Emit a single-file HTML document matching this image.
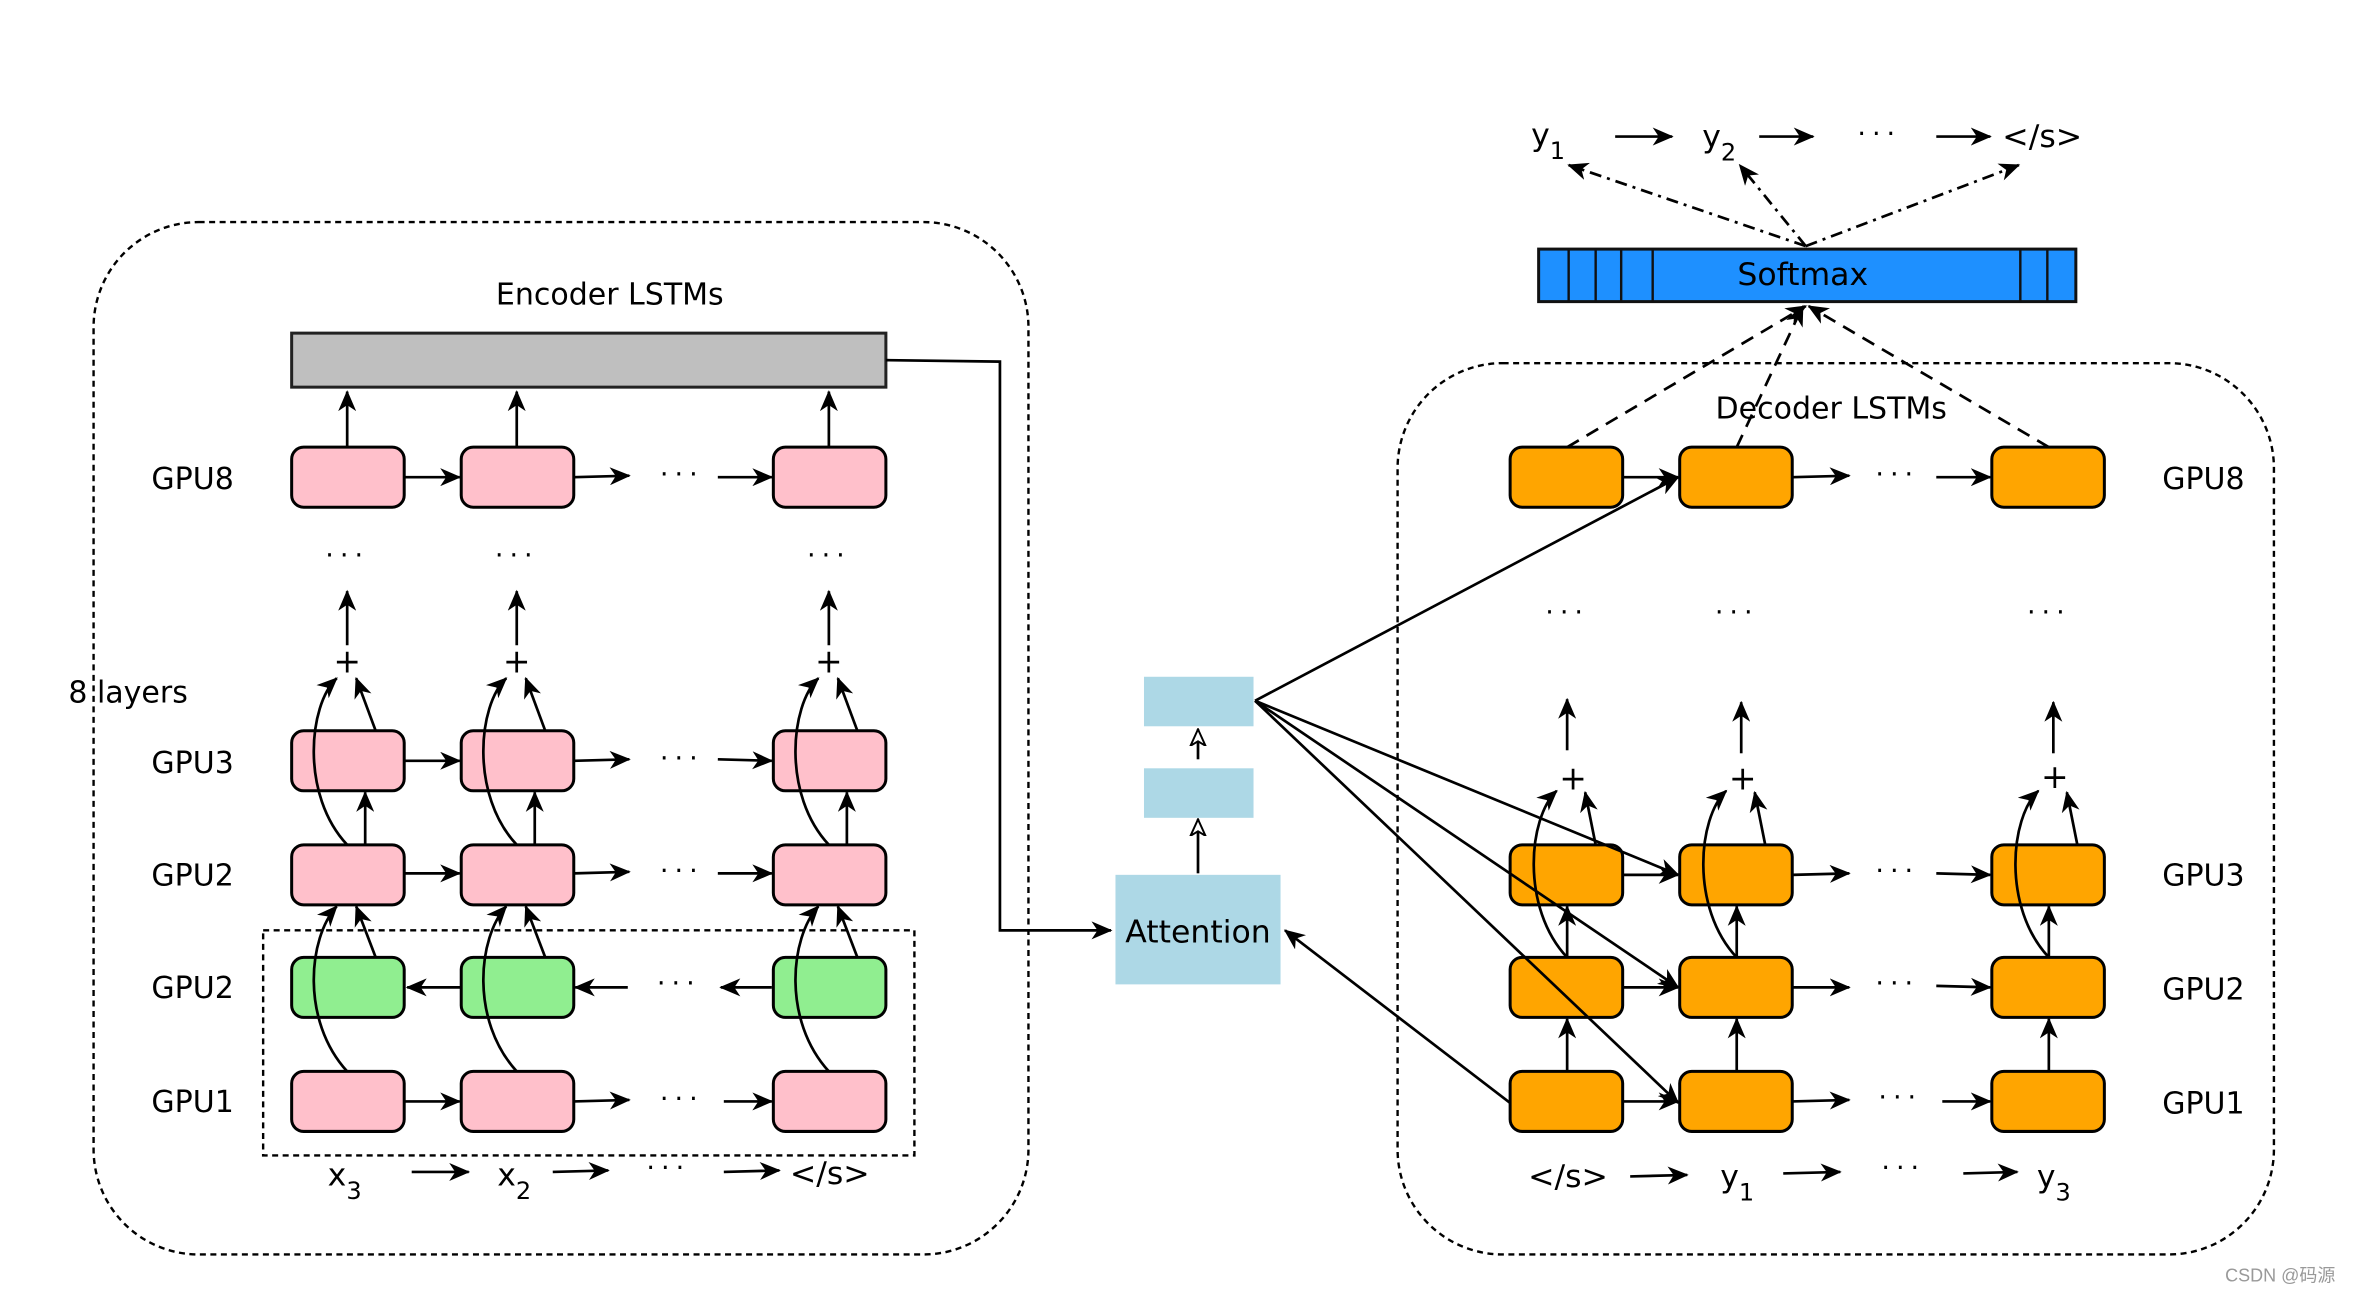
<!DOCTYPE html>
<html><head><meta charset="utf-8"><style>html,body{margin:0;padding:0;background:#fff}svg{display:block}</style></head>
<body>
<svg width="2354" height="1292" viewBox="0 0 1568 861" xmlns="http://www.w3.org/2000/svg" font-family="'DejaVu Sans','Liberation Sans',sans-serif">
<defs>
<marker id="a" markerUnits="userSpaceOnUse" markerWidth="14" markerHeight="12" refX="13" refY="6" orient="auto"><path d="M0,0 L14,6 L0,12 L4,6 z" fill="#000"/></marker>
<marker id="h" markerUnits="userSpaceOnUse" markerWidth="12" markerHeight="12" refX="11" refY="6" orient="auto"><path d="M0,1 L11,6 L0,11 L3,6 z" fill="#fff" stroke="#000" stroke-width="1.3"/></marker>
</defs>
<g fill="none" stroke="#000" stroke-width="1.6" stroke-dasharray="4,3">
<rect x="62" y="148" width="623" height="688" rx="70"/>
<rect x="931" y="242" width="584" height="594" rx="70"/>
<rect x="175" y="620" width="434" height="150" rx="0"/>
</g>
<text x="406" y="203" font-size="20" text-anchor="middle">Encoder LSTMs</text>
<text x="1220" y="279" font-size="20" text-anchor="middle">Decoder LSTMs</text>
<rect x="194" y="222" width="396" height="36" fill="#bfbfbf" stroke="#222" stroke-width="2"/>
<g font-size="20" text-anchor="middle">
<text x="128" y="326">GPU8</text><text x="128" y="515">GPU3</text><text x="128" y="590">GPU2</text><text x="128" y="665">GPU2</text><text x="128" y="741">GPU1</text>
<text x="85" y="468">8 layers</text>
<text x="1468" y="326">GPU8</text><text x="1468" y="590">GPU3</text><text x="1468" y="666">GPU2</text><text x="1468" y="742">GPU1</text>
</g>
<g stroke="#000" stroke-width="2" rx="8">
<g fill="#ffc0cb">
<rect x="194" y="298" width="75" height="40" rx="8"/><rect x="307" y="298" width="75" height="40" rx="8"/><rect x="515" y="298" width="75" height="40" rx="8"/>
<rect x="194" y="487" width="75" height="40" rx="8"/><rect x="307" y="487" width="75" height="40" rx="8"/><rect x="515" y="487" width="75" height="40" rx="8"/>
<rect x="194" y="563" width="75" height="40" rx="8"/><rect x="307" y="563" width="75" height="40" rx="8"/><rect x="515" y="563" width="75" height="40" rx="8"/>
<rect x="194" y="714" width="75" height="40" rx="8"/><rect x="307" y="714" width="75" height="40" rx="8"/><rect x="515" y="714" width="75" height="40" rx="8"/>
</g>
<g fill="#90ee90">
<rect x="194" y="638" width="75" height="40" rx="8"/><rect x="307" y="638" width="75" height="40" rx="8"/><rect x="515" y="638" width="75" height="40" rx="8"/>
</g>
<g fill="#ffa500">
<rect x="1006" y="298" width="75" height="40" rx="8"/><rect x="1119" y="298" width="75" height="40" rx="8"/><rect x="1327" y="298" width="75" height="40" rx="8"/>
<rect x="1006" y="563" width="75" height="40" rx="8"/><rect x="1119" y="563" width="75" height="40" rx="8"/><rect x="1327" y="563" width="75" height="40" rx="8"/>
<rect x="1006" y="638" width="75" height="40" rx="8"/><rect x="1119" y="638" width="75" height="40" rx="8"/><rect x="1327" y="638" width="75" height="40" rx="8"/>
<rect x="1006" y="714" width="75" height="40" rx="8"/><rect x="1119" y="714" width="75" height="40" rx="8"/><rect x="1327" y="714" width="75" height="40" rx="8"/>
</g>
</g>
<g stroke="#000" stroke-width="1.8" fill="none" marker-end="url(#a)">
<!-- encoder horizontals -->
<path d="M269 318 H306"/><path d="M382 318 L419 317"/><path d="M478 318 H514"/>
<path d="M269 507 H306"/><path d="M382 507 L419 506"/><path d="M478 506 L514 507"/>
<path d="M269 582 H306"/><path d="M382 582 L419 581"/><path d="M478 582 H514"/>
<path d="M307 658 H271"/><path d="M418 658 H383"/><path d="M514 658 H480"/>
<path d="M269 734 H306"/><path d="M382 734 L419 733"/><path d="M482 734 H514"/>
<!-- encoder verticals -->
<path d="M231 298 V261"/><path d="M344 298 V261"/><path d="M552 298 V261"/>
<path d="M231 430 V394"/><path d="M344 430 V394"/><path d="M552 430 V394"/>
<path d="M243 563 V528"/><path d="M356 563 V528"/><path d="M564 563 V528"/>
<path d="M231 563 C200 530 205 470 224 452"/><path d="M344 563 C313 530 318 470 337 452"/><path d="M552 563 C521 530 526 470 545 452"/>
<path d="M250 487 L237 452"/><path d="M363 487 L350 452"/><path d="M571 487 L558 452"/>
<path d="M231 714 C200 680 205 625 224 604"/><path d="M344 714 C313 680 318 625 337 604"/><path d="M552 714 C521 680 526 625 545 604"/>
<path d="M250 638 L237 604"/><path d="M363 638 L350 604"/><path d="M571 638 L558 604"/>
<!-- x labels arrows -->
<path d="M274 781 H312"/><path d="M368 781 L405 780"/><path d="M482 781 L519 780"/>
<!-- decoder horizontals -->
<path d="M1081 318 H1118"/><path d="M1194 318 L1232 317"/><path d="M1290 318 H1326"/>
<path d="M1081 583 H1118"/><path d="M1194 583 L1232 582"/><path d="M1290 582 L1326 583"/>
<path d="M1081 658 H1118"/><path d="M1194 658 H1232"/><path d="M1290 657 L1326 658"/>
<path d="M1081 734 H1118"/><path d="M1194 734 L1232 733"/><path d="M1294 734 H1326"/>
<!-- decoder verticals -->
<path d="M1044 500 V466"/><path d="M1160 502 V468"/><path d="M1368 502 V468"/>
<path d="M1044 714 V679"/><path d="M1157 714 V679"/><path d="M1365 714 V679"/>
<path d="M1044 638 V604"/><path d="M1157 638 V604"/><path d="M1365 638 V604"/>
<path d="M1044 638 C1013 605 1018 545 1037 527"/><path d="M1157 638 C1126 605 1131 545 1150 527"/><path d="M1365 638 C1334 605 1339 545 1358 527"/>
<path d="M1063 563 L1056 528"/><path d="M1176 563 L1169 528"/><path d="M1384 563 L1377 528"/>
<!-- decoder label arrows -->
<path d="M1086 784 L1124 783"/><path d="M1188 782 L1226 781"/><path d="M1308 782 L1344 781"/>
<!-- top arrows -->
<path d="M1076 91 H1114"/><path d="M1172 91 H1208"/><path d="M1290 91 H1326"/>
<!-- attention -->
<path d="M798 582 V546" marker-end="url(#h)"/><path d="M798 506 V486" marker-end="url(#h)"/>
<path d="M836 467 L1118 318"/><path d="M836 467 L1118 583"/><path d="M836 467 L1118 658"/><path d="M836 467 L1118 735"/>
<path d="M1006 735 L856 620"/>
<path d="M590 240 L666 241 V620 H740"/>
<!-- softmax dashed -->
<path d="M1044 298 L1203 204" stroke-dasharray="9,6"/><path d="M1157 298 L1201 204" stroke-dasharray="9,6"/><path d="M1365 298 L1205 204" stroke-dasharray="9,6"/>
<path d="M1203 164 L1045 110" stroke-dasharray="8,4,2,4"/><path d="M1203 164 L1159 110" stroke-dasharray="8,4,2,4"/><path d="M1203 164 L1345 110" stroke-dasharray="8,4,2,4"/>
</g>
<g font-size="18" text-anchor="middle" letter-spacing="4">
<text x="231" y="376">···</text><text x="344" y="376">···</text><text x="552" y="376">···</text>
<text x="454" y="511">···</text><text x="454" y="586">···</text><text x="452" y="661">···</text><text x="454" y="738">···</text><text x="454" y="322">···</text><text x="445" y="784">···</text>
<text x="1044" y="414">···</text><text x="1157" y="414">···</text><text x="1365" y="414">···</text>
<text x="1264" y="322">···</text><text x="1264" y="586">···</text><text x="1264" y="661">···</text><text x="1266" y="737">···</text><text x="1268" y="784">···</text><text x="1252" y="95">···</text>
</g>
<g font-size="22" text-anchor="middle">
<text x="231" y="448">+</text><text x="344" y="448">+</text><text x="552" y="448">+</text>
<text x="1048" y="526">+</text><text x="1161" y="526">+</text><text x="1369" y="525">+</text>
</g>
<g font-size="21">
<text x="218" y="790">x<tspan font-size="16" dy="9">3</tspan></text>
<text x="331" y="790">x<tspan font-size="16" dy="9">2</tspan></text>
<text x="526" y="789">&lt;/s&gt;</text>
<text x="1018" y="791">&lt;/s&gt;</text>
<text x="1146" y="791">y<tspan font-size="16" dy="9">1</tspan></text>
<text x="1357" y="791">y<tspan font-size="16" dy="9">3</tspan></text>
<text x="1020" y="97">y<tspan font-size="16" dy="9">1</tspan></text>
<text x="1134" y="98">y<tspan font-size="16" dy="9">2</tspan></text>
<text x="1334" y="98">&lt;/s&gt;</text>
</g>
<rect x="762" y="451" width="73" height="33" fill="#add8e6"/>
<rect x="762" y="512" width="73" height="33" fill="#add8e6"/>
<rect x="743" y="583" width="110" height="73" fill="#add8e6"/>
<text x="798" y="628" font-size="21" text-anchor="middle">Attention</text>
<rect x="1025" y="166" width="358" height="35" fill="#1e90ff" stroke="#111" stroke-width="2"/>
<g stroke="#111" stroke-width="1.6"><path d="M1045 166V201M1063 166V201M1080 166V201M1101 166V201M1346 166V201M1364 166V201"/></g>
<text x="1201" y="190" font-size="21" text-anchor="middle">Softmax</text>
<text x="1556" y="854" font-size="12" fill="#999" text-anchor="end" font-family="'Liberation Sans','Noto Sans CJK SC',sans-serif">CSDN @码源</text>
</svg>
</body></html>
